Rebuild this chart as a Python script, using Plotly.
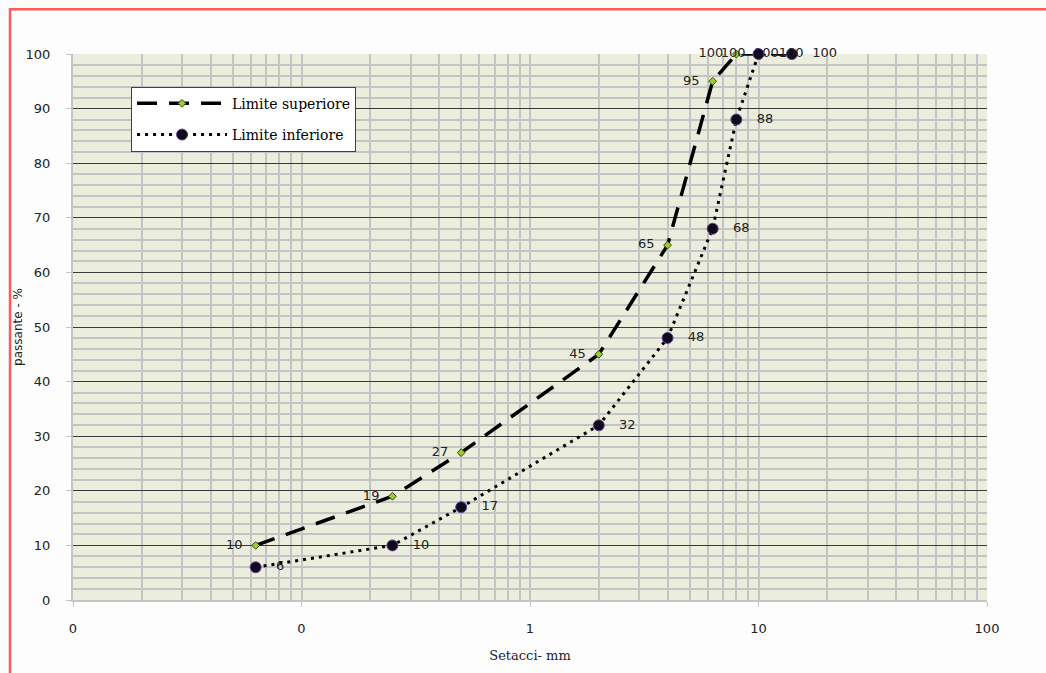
import plotly.graph_objects as go

# Data
setacci_mm = [0.063, 0.25, 0.5, 2, 4, 6.3, 8, 10, 14]
limite_superiore = [10, 19, 27, 45, 65, 95, 100, 100, 100]
limite_inferiore = [6, 10, 17, 32, 48, 68, 88, 100, 100]

x_tickvals = [0.01, 0.1, 1, 10, 100]
x_ticktext = ["0", "0", "1", "10", "100"]
x_minor = [m * d for d in [0.01, 0.1, 1, 10] for m in range(2, 10)]

label_font = dict(family="DejaVu Sans", size=13, color="#222222")

fig = go.Figure()
fig.add_trace(go.Scatter(
    x=setacci_mm, y=limite_superiore, name="Limite superiore",
    legendgroup="sup",
    mode="lines+markers+text",
    text=[f"{v}  " for v in limite_superiore], textposition="middle left",
    textfont=label_font,
    line=dict(color="black", width=3.5, dash="20px,12px"),
    marker=dict(symbol="diamond", size=6, color="#9ACD32",
                line=dict(color="#3a4a10", width=1)),
    cliponaxis=False,
))
fig.add_trace(go.Scatter(
    x=setacci_mm, y=limite_inferiore, name="Limite inferiore",
    legendgroup="inf",
    mode="lines+markers+text",
    text=[f"   {v}" for v in limite_inferiore], textposition="middle right",
    textfont=label_font,
    line=dict(color="black", width=3, dash="3px,5px"),
    marker=dict(symbol="circle", size=11, color="#0b0b1a",
                line=dict(color="#6a3d9a", width=1)),
    cliponaxis=False,
))

tick_font = dict(family="DejaVu Sans", size=13, color="#222222")

fig.update_layout(
    width=1046, height=673,
    margin=dict(l=73, r=59, t=54, b=71),
    paper_bgcolor="#FDFDFD", plot_bgcolor="#EBEEDC",
    showlegend=True,
    legend=dict(
        x=0.0635, y=0.94, xanchor="left", yanchor="top",
        bgcolor="white", bordercolor="#404040", borderwidth=1,
        font=dict(family="DejaVu Serif", size=14, color="black"),
        itemwidth=90, tracegroupgap=10,
    ),
    xaxis=dict(
        type="log", range=[-2, 2],
        tickmode="array", tickvals=x_tickvals, ticktext=x_ticktext,
        showgrid=True, gridcolor="#C4C4C4", gridwidth=2,
        showline=True, linecolor="#C4C4C4", linewidth=2,
        ticks="outside", ticklen=5, tickcolor="#C4C4C4",
        tickfont=tick_font, ticklabelstandoff=10,
        minor=dict(tickmode="array", tickvals=x_minor, showgrid=True,
                   gridcolor="#C4C4C4", gridwidth=2, ticks=""),
        zeroline=False,
        title=dict(text="Setacci- mm", font=dict(family="DejaVu Serif", size=13, color="#222222"),
                   standoff=16),
    ),
    yaxis=dict(
        range=[0, 100], dtick=10, tick0=0,
        showgrid=True, gridcolor="#3a3a3a", gridwidth=1,
        showline=True, linecolor="#C4C4C4", linewidth=2,
        ticks="outside", ticklen=5, tickcolor="#C4C4C4",
        tickfont=tick_font, ticklabelstandoff=13,
        minor=dict(dtick=2, showgrid=True, gridcolor="#C4C4C4", gridwidth=1.5, ticks=""),
        zeroline=False,
        title=dict(text="passante - %", font=dict(family="DejaVu Sans", size=12, color="#222222"),
                   standoff=0),
    ),
    shapes=[dict(type="rect", xref="paper", yref="paper",
                 x0=-0.0689, x1=1.3, y0=-0.4, y1=1.0821,
                 line=dict(color="#FF5A5A", width=2.5), layer="above")],
)

fig.write_html("out.html", config={"displayModeBar": False},
               post_script="document.body.style.margin='0';")
